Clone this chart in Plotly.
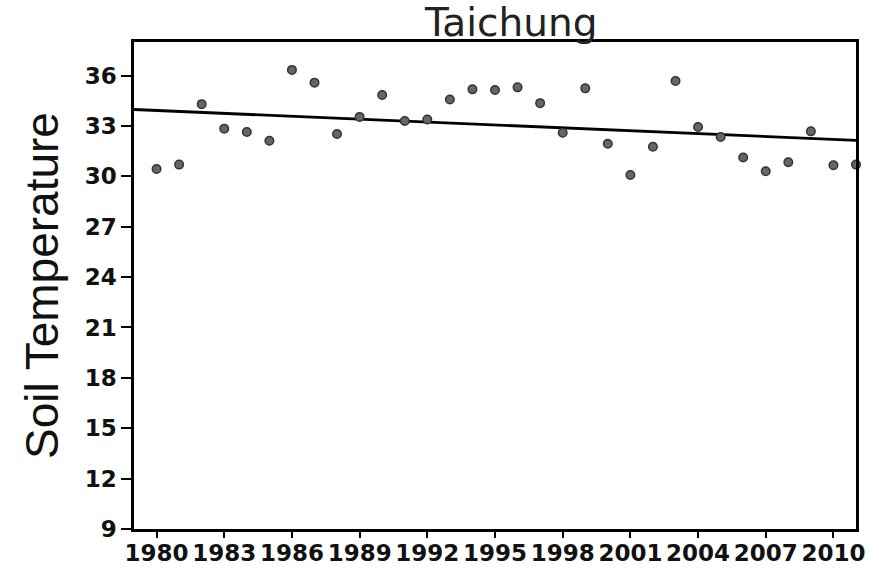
import plotly.graph_objects as go

years = list(range(1980, 2012))
soil_temp = [30.44, 30.70, 34.30, 32.84, 32.64, 32.12, 36.34, 35.58, 32.52, 33.54,
             34.84, 33.30, 33.38, 34.58, 35.18, 35.14, 35.30, 34.36, 32.60, 35.24,
             31.94, 30.08, 31.76, 35.68, 32.94, 32.34, 31.12, 30.30, 30.84, 32.68,
             30.66, 30.70]
trend_x = [1979, 2011]
trend_y = [33.98, 32.14]
x_ticks = list(range(1980, 2011, 3))
y_ticks = list(range(9, 37, 3))

fig = go.Figure()
fig.add_trace(go.Scatter(
    x=trend_x, y=trend_y, mode="lines",
    line=dict(color="black", width=2.8), showlegend=False, hoverinfo="skip"))
fig.add_trace(go.Scatter(
    x=years, y=soil_temp, mode="markers",
    marker=dict(size=8.5, color="#666666", line=dict(color="#333333", width=1.5)),
    cliponaxis=False, showlegend=False))

fig.update_layout(
    width=879, height=570,
    margin=dict(l=134, r=23, t=42, b=41, autoexpand=False),
    paper_bgcolor="white", plot_bgcolor="white",
    annotations=[dict(
        text="Taichung", xref="paper", yref="paper", x=0.522, y=1.0,
        xanchor="center", yanchor="bottom", showarrow=False, yshift=-5,
        font=dict(family="DejaVu Sans", size=39, color="#222222"))],
)
fig.update_xaxes(
    range=[1979, 2011], tickvals=x_ticks, ticktext=[str(v) for v in x_ticks],
    showgrid=False, zeroline=False, automargin=False,
    showline=True, mirror=True, linecolor="black", linewidth=2.5,
    ticks="outside", ticklen=6, tickwidth=2, tickcolor="black",
    tickangle=0, ticklabelstandoff=-4,
    tickfont=dict(family="DejaVu Sans", size=23, color="#111111", weight="bold"),
)
fig.update_yaxes(
    range=[9, 38], tickvals=y_ticks, ticktext=[str(v) for v in y_ticks],
    showgrid=False, zeroline=False, automargin=False,
    showline=True, mirror=True, linecolor="black", linewidth=2.5,
    ticks="outside", ticklen=10, tickwidth=2, tickcolor="black",
    tickfont=dict(family="DejaVu Sans", size=23, color="#111111", weight="bold"),
    title=dict(text="Soil Temperature", standoff=12,
               font=dict(family="Liberation Sans", size=46, color="#111111")),
)

fig.write_html("out.html")
